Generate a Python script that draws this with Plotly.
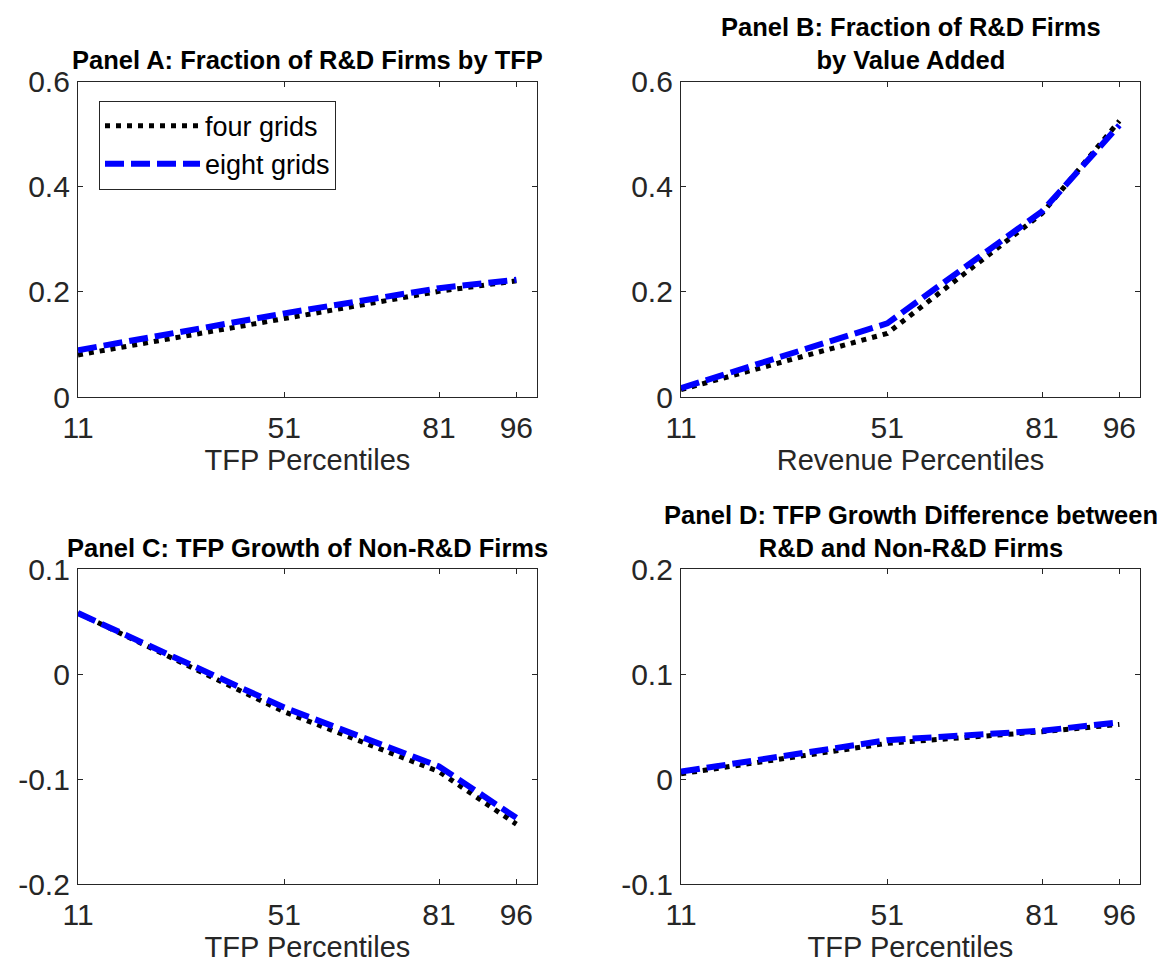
import plotly.graph_objects as go

# ---------------- data ----------------
percentiles = [11, 51, 81, 96]

a_four = [0.080, 0.150, 0.201, 0.221]
a_eight = [0.089, 0.159, 0.207, 0.223]

b_four = [0.014, 0.121, 0.349, 0.525]
b_eight = [0.017, 0.140, 0.353, 0.517]

c_four = [0.058, -0.036, -0.093, -0.143]
c_eight = [0.058, -0.032, -0.088, -0.137]

d_four = [0.005, 0.034, 0.045, 0.052]
d_eight = [0.007, 0.037, 0.046, 0.054]

x_ticks = [11, 51, 81, 96]
x_ticktext = ["11", "51", "81", "96"]
y_ticks_ab = [0, 0.2, 0.4, 0.6]
y_ticktext_ab = ["0", "0.2", "0.4", "0.6"]
y_ticks_c = [-0.2, -0.1, 0, 0.1]
y_ticktext_c = ["-0.2", "-0.1", "0", "0.1"]
y_ticks_d = [-0.1, 0, 0.1, 0.2]
y_ticktext_d = ["-0.1", "0", "0.1", "0.2"]

titles = [
    "Panel A: Fraction of R&D Firms by TFP",
    "Panel B: Fraction of R&D Firms<br>by Value Added",
    "Panel C: TFP Growth of Non-R&D Firms",
    "Panel D: TFP Growth Difference between<br>R&D and Non-R&D Firms",
]
xlabels = ["TFP Percentiles", "Revenue Percentiles", "TFP Percentiles", "TFP Percentiles"]
series_names = ["four grids", "eight grids"]

# ---------------- layout geometry ----------------
W, H = 1168, 965
FONT = "Arial, Liberation Sans, Helvetica, sans-serif"
AX = "#262626"

col_px = [(70, 529), (673, 1132)]
row_px = [(73.5, 389), (561, 876)]

def xd(c):
    return [col_px[c][0] / W, col_px[c][1] / W]

def yd(r):
    return [1 - row_px[r][1] / H, 1 - row_px[r][0] / H]

panels = [
    (0, 0, a_four, a_eight, [0, 0.6], y_ticks_ab, y_ticktext_ab),
    (0, 1, b_four, b_eight, [0, 0.6], y_ticks_ab, y_ticktext_ab),
    (1, 0, c_four, c_eight, [-0.2, 0.1], y_ticks_c, y_ticktext_c),
    (1, 1, d_four, d_eight, [-0.1, 0.2], y_ticks_d, y_ticktext_d),
]

fig = go.Figure()
layout = dict(
    width=W, height=H,
    margin=dict(l=0, r=0, t=0, b=0),
    paper_bgcolor="white", plot_bgcolor="white",
    font=dict(family=FONT, color=AX),
    showlegend=True,
    legend=dict(
        x=91 / W, y=1 - 92.7 / H, xanchor="left", yanchor="top",
        bgcolor="white", bordercolor=AX, borderwidth=1,
        font=dict(family=FONT, size=27, color="#000000"),
        itemwidth=95, tracegroupgap=0,
    ),
)
annotations = []

for i, (r, c, four, eight, yr, yt, ytt) in enumerate(panels):
    n = "" if i == 0 else str(i + 1)
    xa, ya = "x" + n, "y" + n
    fig.add_trace(go.Scatter(
        x=percentiles, y=four, mode="lines", name=series_names[0],
        line=dict(color="#000000", width=5, dash="5px,6px"),
        xaxis=xa, yaxis=ya, showlegend=(i == 0), legendgroup="four",
    ))
    fig.add_trace(go.Scatter(
        x=percentiles, y=eight, mode="lines", name=series_names[1],
        line=dict(color="#0000FF", width=6, dash="19px,7px"),
        xaxis=xa, yaxis=ya, showlegend=(i == 0), legendgroup="eight",
    ))
    layout["xaxis" + n] = dict(
        domain=xd(c), anchor=ya, range=[11, 100],
        tickvals=x_ticks, ticktext=x_ticktext,
        ticks="inside", ticklen=5, tickwidth=1, tickcolor=AX,
        showline=True, linecolor=AX, linewidth=1.3, mirror="ticks",
        showgrid=False, zeroline=False, automargin=False,
        tickfont=dict(family=FONT, size=30, color=AX),
        ticklabelstandoff=4,
        title=dict(text=xlabels[i], font=dict(family=FONT, size=29, color=AX), standoff=5),
    )
    layout["yaxis" + n] = dict(
        domain=yd(r), anchor=xa, range=yr,
        tickvals=yt, ticktext=ytt,
        ticks="inside", ticklen=5, tickwidth=1, tickcolor=AX,
        showline=True, linecolor=AX, linewidth=1.3, mirror="ticks",
        showgrid=False, zeroline=False, automargin=False,
        tickfont=dict(family=FONT, size=30, color=AX),
        ticklabelstandoff=1,
    )
    cx = (col_px[c][0] + col_px[c][1]) / 2 / W
    top = row_px[r][0]
    annotations.append(dict(
        text="<b>" + titles[i] + "</b>", xref="paper", yref="paper",
        x=cx, y=1 - (top - 5) / H, xanchor="center", yanchor="bottom",
        showarrow=False, font=dict(family=FONT, size=25.5, color="#000000"),
    ))

layout["annotations"] = annotations
fig.update_layout(**layout)
fig.write_html("out.html")
